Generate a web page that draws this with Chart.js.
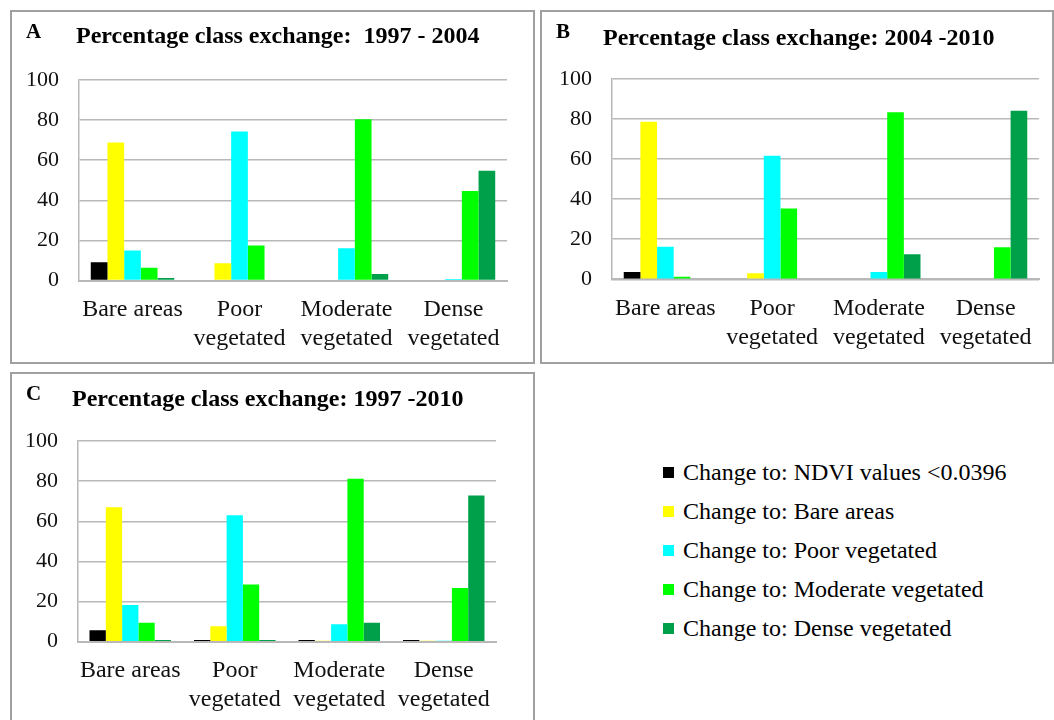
<!DOCTYPE html>
<html>
<head>
<meta charset="utf-8">
<script src="https://cdn.jsdelivr.net/npm/chart.js@4/dist/chart.umd.min.js"></script>
<style>
  body { margin: 0; background: #fff; width: 1054px; height: 720px; overflow: hidden; position: relative; font-family: "Liberation Serif", "Times New Roman", serif; }
  .panel { position: absolute; border: 2px solid #a0a0a0; box-sizing: border-box; background: #fff; }
  .panel canvas { position: absolute; left: 0; top: 0; }
  .letter { position: absolute; font-weight: bold; font-size: 21px; }
  .title { position: absolute; font-weight: bold; font-size: 24px; white-space: pre; }
  .legend { position: absolute; left: 663px; top: 457px; font-size: 24px; }
  .legend div { height: 39px; line-height: 30px; white-space: nowrap; }
  .legend span { display: inline-block; width: 11px; height: 11px; margin-right: 9px; vertical-align: 2px; }
</style>
</head>
<body>

<div class="panel" id="pA" style="left:10px; top:10px; width:525px; height:354px;">
  <canvas id="cA" width="521" height="350"></canvas>
  <div class="letter" style="left:14px; top:7px;">A</div>
  <div class="title" style="left:64px; top:10px;">Percentage class exchange:  1997 - 2004</div>
</div>
<div class="panel" id="pB" style="left:540px; top:10px; width:514px; height:354px;">
  <canvas id="cB" width="510" height="350"></canvas>
  <div class="letter" style="left:14px; top:7px;">B</div>
  <div class="title" style="left:61px; top:12px;">Percentage class exchange: 2004 -2010</div>
</div>
<div class="panel" id="pC" style="left:10px; top:372px; width:525px; height:360px;">
  <canvas id="cC" width="521" height="350"></canvas>
  <div class="letter" style="left:14px; top:7px;">C</div>
  <div class="title" style="left:60px; top:11px;">Percentage class exchange: 1997 -2010</div>
</div>

<div class="legend" id="legend"></div>

<script>
// categories (classes in the earlier year)
const categories = [["Bare areas"], ["Poor", "vegetated"], ["Moderate", "vegetated"], ["Dense", "vegetated"]];

// series names and colours
const seriesNames = [
  "Change to: NDVI values <0.0396",
  "Change to: Bare areas",
  "Change to: Poor vegetated",
  "Change to: Moderate vegetated",
  "Change to: Dense vegetated"
];
const seriesColors = ["#000000", "#ffff00", "#00ffff", "#00ff00", "#00a04b"];

// y ticks
const yTicks = [0, 20, 40, 60, 80, 100];

// A: 1997 - 2004  (one array per series, values per category)
const aNdvi     = [9.1, 0, 0, 0];
const aBare     = [68.8, 8.6, 0, 0];
const aPoor     = [15.0, 74.3, 16.1, 0.8];
const aModerate = [6.3, 17.4, 80.4, 44.7];
const aDense    = [1.3, 0, 3.3, 54.8];

// B: 2004 - 2010
const bNdvi     = [3.7, 0, 0, 0];
const bBare     = [78.7, 3.0, 0, 0];
const bPoor     = [16.3, 61.7, 3.7, 0];
const bModerate = [1.3, 35.4, 83.4, 16.0];
const bDense    = [0, 0, 12.5, 84.2];

// C: 1997 - 2010
const cNdvi     = [5.7, 0.8, 0.8, 0.8];
const cBare     = [67.0, 7.7, 0.5, 0.5];
const cPoor     = [18.3, 63.0, 8.7, 0.5];
const cModerate = [9.5, 28.5, 81.2, 26.7];
const cDense    = [0.8, 0.8, 9.5, 72.8];

const serif = '"Liberation Serif", "Times New Roman", serif';

function makeChart(id, series, plotLeft, plotTop, rightPad, plotBottom) {
  const canvas = document.getElementById(id);
  new Chart(canvas, {
    type: "bar",
    data: {
      labels: categories,
      datasets: series.map((vals, i) => ({
        label: seriesNames[i],
        data: vals,
        backgroundColor: seriesColors[i],
        borderWidth: 0,
        categoryPercentage: 0.78,
        barPercentage: 1.0
      }))
    },
    options: {
      responsive: false,
      animation: false,
      layout: { padding: { left: 0, top: plotTop, right: rightPad, bottom: 0 } },
      plugins: { legend: { display: false }, tooltip: { enabled: false }, title: { display: false } },
      scales: {
        x: {
          grid: { display: false, drawTicks: false },
          border: { display: true, color: "#b8b8b8", width: 2 },
          ticks: { color: "#111", font: { family: serif, size: 24, lineHeight: 1.2 }, padding: 15, maxRotation: 0, autoSkip: false },
          afterFit: s => { s.height = canvas.height - plotBottom; }
        },
        y: {
          min: 0, max: 100,
          afterBuildTicks: s => { s.ticks = yTicks.map(v => ({ value: v })); },
          grid: { color: "#b8b8b8", lineWidth: 1.5, drawTicks: false },
          border: { display: true, color: "#b8b8b8", width: 1.5 },
          ticks: { color: "#111", font: { family: serif, size: 22 }, padding: 20 },
          afterFit: s => { s.width = plotLeft; }
        }
      }
    }
  });
}

makeChart("cA", [aNdvi, aBare, aPoor, aModerate, aDense], 67, 68, 26, 268.5);
makeChart("cB", [bNdvi, bBare, bPoor, bModerate, bDense], 70, 67, 13, 267.3);
makeChart("cC", [cNdvi, cBare, cPoor, cModerate, cDense], 66, 67, 37, 267.7);

// legend
const legend = document.getElementById("legend");
seriesNames.forEach((name, i) => {
  const row = document.createElement("div");
  row.innerHTML = '<span style="background:' + seriesColors[i] + '"></span>' + name;
  legend.appendChild(row);
});
</script>
</body>
</html>
